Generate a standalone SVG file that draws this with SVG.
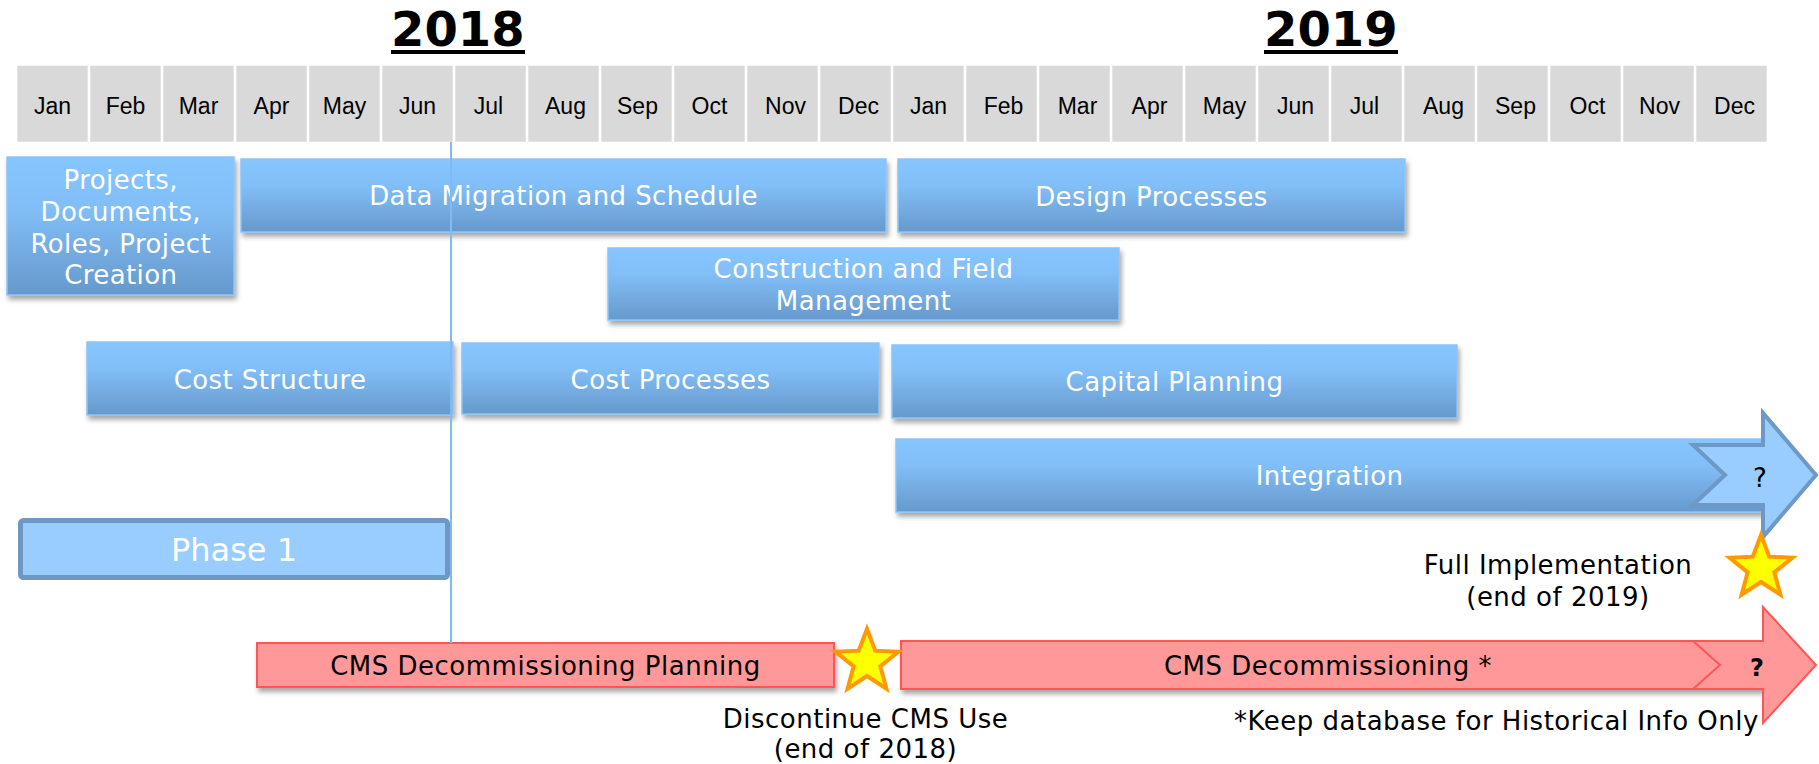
<svg xmlns="http://www.w3.org/2000/svg" width="1819" height="764" viewBox="0 0 1819 764">
<style>
.cell{fill:#D9D9D9}
.mon{font-family:"Liberation Sans",Arial,sans-serif;font-size:23px;fill:#000;text-anchor:middle}
.year{font-family:"DejaVu Sans",Verdana,sans-serif;font-size:48px;font-weight:bold;fill:#000}
.bbox{fill:url(#bg);stroke:#8CC3F7;stroke-width:1.5;filter:url(#sh)}
.bt{font-family:"DejaVu Sans",Verdana,sans-serif;font-size:26px;fill:#FFFFFF;text-anchor:middle;letter-spacing:0.4px}
.pbox{fill:#FF9999;stroke:#FF5555;stroke-width:2;filter:url(#sh)}
.kt{font-family:"DejaVu Sans",Verdana,sans-serif;font-size:26px;fill:#000;text-anchor:middle;letter-spacing:0.5px}
.star{fill:#FFFF00;stroke:#FF9900;stroke-width:4;stroke-linejoin:miter}
</style>
<defs>
<linearGradient id="bg" x1="0" y1="0" x2="0" y2="1">
<stop offset="0" stop-color="#86C5FF"/>
<stop offset="0.35" stop-color="#82BFF8"/>
<stop offset="1" stop-color="#6699CC"/>
</linearGradient>
<filter id="sh" x="-5%" y="-20%" width="115%" height="160%">
<feDropShadow dx="2" dy="4" stdDeviation="2.5" flood-color="#000" flood-opacity="0.35"/>
</filter>
<polygon id="starshape" points="0,-33 8.23,-11.33 31.38,-10.2 13.31,4.33 19.4,26.7 0,14 -19.4,26.7 -13.31,4.33 -31.38,-10.2 -8.23,-11.33"/>
</defs>
<rect width="1819" height="764" fill="#FFFFFF"/>

<g id="years">
<text class="year" x="391" y="46">2018</text>
<rect x="391" y="50" width="134" height="4" fill="#000"/>
<text class="year" x="1264" y="46">2019</text>
<rect x="1264" y="50" width="134" height="4" fill="#000"/>
</g>

<g id="months">
<rect class="cell" x="17.3" y="65.7" width="70.4" height="76"/><text class="mon" x="52.5" y="114">Jan</text>
<rect class="cell" x="90.3" y="65.7" width="70.4" height="76"/><text class="mon" x="125.5" y="114">Feb</text>
<rect class="cell" x="163.3" y="65.7" width="70.4" height="76"/><text class="mon" x="198.5" y="114">Mar</text>
<rect class="cell" x="236.3" y="65.7" width="70.4" height="76"/><text class="mon" x="271.5" y="114">Apr</text>
<rect class="cell" x="309.3" y="65.7" width="70.4" height="76"/><text class="mon" x="344.5" y="114">May</text>
<rect class="cell" x="382.3" y="65.7" width="70.4" height="76"/><text class="mon" x="417.5" y="114">Jun</text>
<rect class="cell" x="455.3" y="65.7" width="70.4" height="76"/><text class="mon" x="488.5" y="114">Jul</text>
<rect class="cell" x="528.3" y="65.7" width="70.4" height="76"/><text class="mon" x="565.5" y="114">Aug</text>
<rect class="cell" x="601.3" y="65.7" width="70.4" height="76"/><text class="mon" x="637.5" y="114">Sep</text>
<rect class="cell" x="674.3" y="65.7" width="70.4" height="76"/><text class="mon" x="709.5" y="114">Oct</text>
<rect class="cell" x="747.3" y="65.7" width="70.4" height="76"/><text class="mon" x="785.5" y="114">Nov</text>
<rect class="cell" x="820.3" y="65.7" width="70.4" height="76"/><text class="mon" x="858.5" y="114">Dec</text>
<rect class="cell" x="893.3" y="65.7" width="70.4" height="76"/><text class="mon" x="928.5" y="114">Jan</text>
<rect class="cell" x="966.3" y="65.7" width="70.4" height="76"/><text class="mon" x="1003.5" y="114">Feb</text>
<rect class="cell" x="1039.3" y="65.7" width="70.4" height="76"/><text class="mon" x="1077.5" y="114">Mar</text>
<rect class="cell" x="1112.3" y="65.7" width="70.4" height="76"/><text class="mon" x="1149.5" y="114">Apr</text>
<rect class="cell" x="1185.3" y="65.7" width="70.4" height="76"/><text class="mon" x="1224.5" y="114">May</text>
<rect class="cell" x="1258.3" y="65.7" width="70.4" height="76"/><text class="mon" x="1295.5" y="114">Jun</text>
<rect class="cell" x="1331.3" y="65.7" width="70.4" height="76"/><text class="mon" x="1364.5" y="114">Jul</text>
<rect class="cell" x="1404.3" y="65.7" width="70.4" height="76"/><text class="mon" x="1443.5" y="114">Aug</text>
<rect class="cell" x="1477.3" y="65.7" width="70.4" height="76"/><text class="mon" x="1515.5" y="114">Sep</text>
<rect class="cell" x="1550.3" y="65.7" width="70.4" height="76"/><text class="mon" x="1587.5" y="114">Oct</text>
<rect class="cell" x="1623.3" y="65.7" width="70.4" height="76"/><text class="mon" x="1659.5" y="114">Nov</text>
<rect class="cell" x="1696.3" y="65.7" width="70.4" height="76"/><text class="mon" x="1734.5" y="114">Dec</text>
</g>

<g id="projects">
<rect class="bbox" x="7" y="157" width="227" height="138"/>
<text class="bt" x="120.8" y="189">Projects,</text>
<text class="bt" x="120.8" y="221">Documents,</text>
<text class="bt" x="120.8" y="253">Roles, Project</text>
<text class="bt" x="120.8" y="284">Creation</text>
</g>

<g id="data-migration">
<rect class="bbox" x="241" y="159" width="645" height="73"/>
<text class="bt" x="563.5" y="205">Data Migration and Schedule</text>
</g>

<g id="design-processes">
<rect class="bbox" x="898" y="159" width="507" height="73"/>
<text class="bt" x="1151.5" y="206">Design Processes</text>
</g>

<g id="construction">
<rect class="bbox" x="608" y="248" width="511" height="72"/>
<text class="bt" x="863.5" y="278">Construction and Field</text>
<text class="bt" x="863.5" y="310">Management</text>
</g>

<g id="cost-structure">
<rect class="bbox" x="87" y="342" width="366" height="73"/>
<text class="bt" x="270" y="389">Cost Structure</text>
</g>

<g id="cost-processes">
<rect class="bbox" x="462" y="343" width="417" height="71"/>
<text class="bt" x="670.5" y="389">Cost Processes</text>
</g>

<g id="capital-planning">
<rect class="bbox" x="892" y="345" width="565" height="73"/>
<text class="bt" x="1174.5" y="391">Capital Planning</text>
</g>

<g id="integration">
<rect class="bbox" x="896" y="439" width="867" height="73"/>
<text class="bt" x="1329.5" y="485">Integration</text>
<polygon points="1693,445 1763,445 1763,413 1816,475 1763,537 1763,505 1693,505 1725,475" fill="#99CCFF" stroke="#6E98C5" stroke-width="4"/>
<text x="1760" y="487" font-family="DejaVu Sans, Verdana, sans-serif" font-size="26" fill="#000" text-anchor="middle">?</text>
</g>

<g id="phase1">
<rect x="20.5" y="520.5" width="427" height="57" rx="3" fill="#99CCFF" stroke="#6F97C4" stroke-width="5"/>
<text x="234" y="561" font-family="DejaVu Sans, Verdana, sans-serif" font-size="32" fill="#FFFFFF" text-anchor="middle">Phase 1</text>
</g>

<g id="cms-planning">
<rect class="pbox" x="257" y="643" width="577" height="44"/>
<text class="kt" x="545.5" y="675">CMS Decommissioning Planning</text>
</g>

<g id="cms-decommissioning">
<rect class="pbox" x="901" y="641" width="862" height="48"/>
<text class="kt" x="1328" y="675">CMS Decommissioning *</text>
<polygon points="1693,641 1763,641 1763,607 1816,665 1763,723 1763,689 1693,689 1720,665" fill="#FF9999" stroke="#FF5555" stroke-width="2"/>
<text x="1757" y="676" font-family="DejaVu Sans, Verdana, sans-serif" font-size="24" font-weight="bold" fill="#000" text-anchor="middle">?</text>
</g>

<g id="milestone-discontinue">
<use href="#starshape" class="star" transform="translate(867,662)"/>
<text class="kt" x="865.5" y="728">Discontinue CMS Use</text>
<text class="kt" x="865.5" y="758">(end of 2018)</text>
</g>

<g id="milestone-full">
<use href="#starshape" class="star" transform="translate(1761,568)"/>
<text class="kt" x="1558" y="574">Full Implementation</text>
<text class="kt" x="1558" y="606">(end of 2019)</text>
</g>

<g id="note">
<text class="kt" x="1234" y="730" style="text-anchor:start">*Keep database for Historical Info Only</text>
</g>

<g id="connectors">
<line x1="451" y1="142" x2="451" y2="643" stroke="#7FBAF2" stroke-width="2"/>
</g>
</svg>
